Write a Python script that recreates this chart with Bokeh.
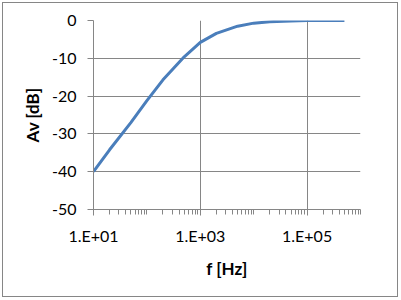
from bokeh.plotting import figure
from bokeh.models import Range1d, FixedTicker, ColumnDataSource
from bokeh.embed import file_html
from bokeh.resources import INLINE

freq = [10, 20, 50, 100, 200, 500, 1000, 2000, 5000, 10000, 20000, 50000, 100000, 200000, 500000]
av_db = [-40, -34.2, -27.0, -21.2, -15.7, -9.6, -5.8, -3.4, -1.5, -0.7, -0.3, -0.1, 0, 0, 0]

y_ticks = [-50, -40, -30, -20, -10, 0]
y_labels = {t: str(t) for t in y_ticks}
x_ticks = [10, 1000, 100000]
x_labels = {10: "1.E+01", 1000: "1.E+03", 100000: "1.E+05"}
x_minor = [m * 10 ** d for d in range(1, 6) for m in range(2, 10)] + [100, 10000, 1000000]

FONT = "Lato"
GRID = "#868686"

p = figure(width=394, height=293, x_axis_type="log",
           x_range=Range1d(10, 1e6), y_range=Range1d(-50, 0),
           output_backend="svg", toolbar_location=None,
           min_border_left=90, min_border_right=39, min_border_top=17, min_border_bottom=89,
           margin=(2, 0, 0, 2))
p.outline_line_color = None
p.background_fill_color = "white"
p.border_fill_color = "white"
p.styles = {"border": "1px solid #868686", "box-sizing": "content-box"}

src = ColumnDataSource(data=dict(f=freq, av=av_db))
p.line("f", "av", source=src, line_color="#4a7ebb", line_width=3)

p.xaxis.ticker = FixedTicker(ticks=x_ticks, minor_ticks=x_minor)
p.xaxis.major_label_overrides = x_labels
p.yaxis.ticker = FixedTicker(ticks=y_ticks)
p.yaxis.major_label_overrides = y_labels
p.xgrid.ticker = FixedTicker(ticks=x_ticks)
p.ygrid.ticker = FixedTicker(ticks=y_ticks)

for g in (p.xgrid, p.ygrid):
    g.grid_line_color = GRID
    g.grid_line_width = 1

for ax in (p.xaxis, p.yaxis):
    ax.axis_line_color = GRID
    ax.major_tick_line_color = GRID
    ax.minor_tick_line_color = GRID
    ax.major_label_text_font = FONT
    ax.major_label_text_font_size = "16px"
    ax.major_label_text_color = "black"
    ax.axis_label_text_font = FONT
    ax.axis_label_text_font_size = "17px"
    ax.axis_label_text_font_style = "bold"
    ax.axis_label_text_color = "black"

p.xaxis.major_tick_in = 7
p.xaxis.major_tick_out = 6
p.xaxis.minor_tick_in = 0
p.xaxis.minor_tick_out = 5
p.xaxis.major_label_standoff = 10
p.xaxis.axis_label = "f [Hz]"
p.xaxis.axis_label_standoff = 10

p.yaxis.major_tick_in = 0
p.yaxis.major_tick_out = 6
p.yaxis.minor_tick_line_color = None
p.yaxis.major_label_standoff = 11
p.yaxis.axis_label = "Av [dB]"
p.yaxis.axis_label_standoff = 6

open("out.html", "w").write(file_html(p, INLINE))
